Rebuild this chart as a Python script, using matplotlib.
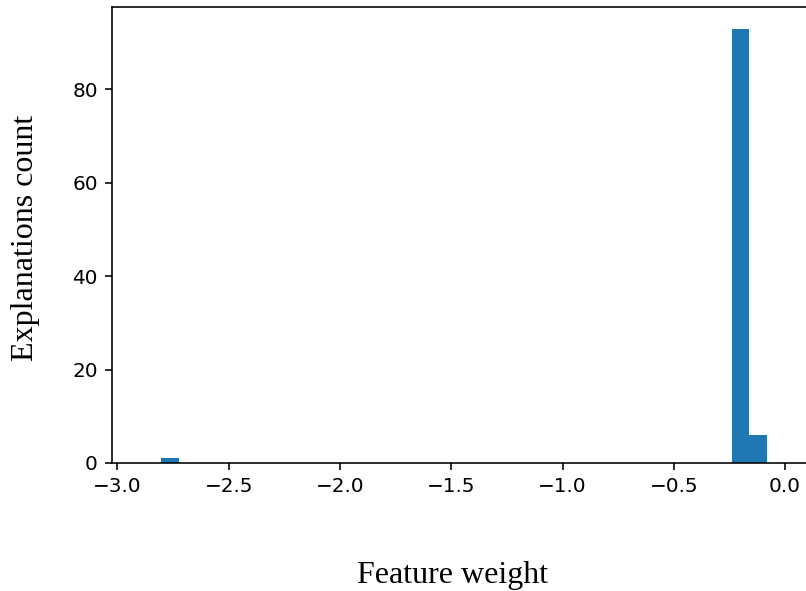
import matplotlib
matplotlib.use("Agg")
import matplotlib.pyplot as plt
import numpy as np

# Histogram of feature weights: 35 equal bins between the data min and max.
BIN_LO, BIN_HI, N_BINS = -2.803, -0.083, 35
# non-empty bins only (index -> explanation count), the rest are zero
NONZERO = {0: 1, 33: 93, 34: 6}

XTICKS = [-3.0, -2.5, -2.0, -1.5, -1.0, -0.5, 0.0]
YTICKS = [0, 20, 40, 60, 80]

edges = np.linspace(BIN_LO, BIN_HI, N_BINS + 1)
counts = np.zeros(N_BINS)
for i, c in NONZERO.items():
    counts[i] = c
centers = (edges[:-1] + edges[1:]) / 2

DPI = 144
W, H = 806, 591
fig = plt.figure(figsize=(W / DPI, H / DPI), dpi=DPI)
# axes run a little past the right edge of the picture, as in the original
ax = fig.add_axes([112 / W, (H - 463) / H, (810 - 112) / W, 456 / H])

ax.hist(centers, bins=edges, weights=counts, color="#1f77b4")
ax.set_xlim(-3.0247, 0.112)
ax.set_xticks(XTICKS)
ax.set_yticks(YTICKS)

serif = ["Liberation Serif", "DejaVu Serif"]
fig.text(452.5 / W, (H - 583) / H, "Feature weight", family=serif,
         fontsize=16, ha="center", va="baseline")
fig.text(33 / W, (H - 238) / H, "Explanations count", family=serif,
         fontsize=16, rotation=90, rotation_mode="anchor",
         ha="center", va="baseline")

fig.savefig("out.png", dpi=DPI)
